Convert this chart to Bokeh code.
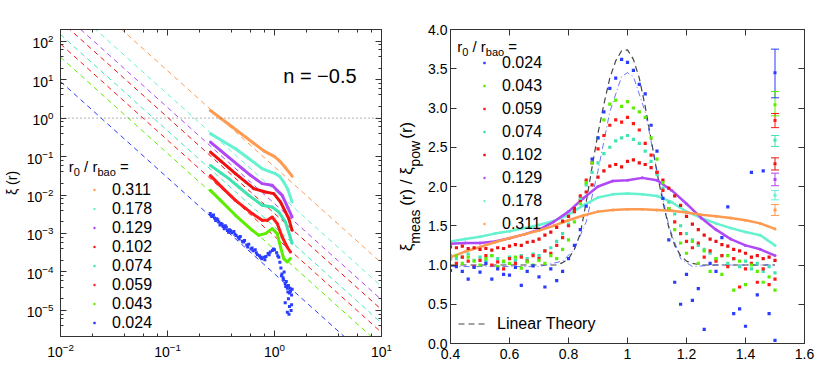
from bokeh.plotting import figure
from bokeh.layouts import row
from bokeh.models import (Label, Legend, LegendItem, LogAxis, LinearAxis, LogTicker,
                          FixedTicker, CustomJSTickFormatter, PrintfTickFormatter, Span)
from bokeh.embed import file_html
from bokeh.resources import INLINE

FONT = "Liberation Sans"
AX = "#333333"
NB = "\u00a0"

# ---------------- data ----------------
series = ["0.311", "0.178", "0.129", "0.102", "0.074", "0.059", "0.043", "0.024"]
colors = ["#ff9a50", "#66f2d0", "#b048f8", "#ee1111", "#40e4b0", "#ff1a1a", "#5cee00", "#2a3cff"]

# left panel: power-law xi_pow values at r = 0.01 and r = 10 (dashed lines)
pl_r = [0.01, 10.0]
pl_311 = [5395, 1.71e-4]
pl_178 = [1337, 4.23e-5]
pl_129 = [598, 1.89e-5]
pl_102 = [332, 1.05e-5]
pl_074 = [149, 4.71e-6]
pl_059 = [84.6, 2.67e-6]
pl_043 = [38.4, 1.21e-6]
pl_024 = [8.92, 2.82e-7]
unity = 1.0

# left panel: measured xi(r)
l311_r = [0.251, 0.316, 0.398, 0.501, 0.631, 0.794, 1.000, 1.122, 1.259, 1.462]
l311_xi = [1.585, 0.977, 0.603, 0.372, 0.229, 0.141, 0.100, 0.0759, 0.0525, 0.0309]
l178_r = [0.252, 0.316, 0.432, 0.575, 0.767, 0.900, 1.020, 1.122, 1.220, 1.330, 1.460]
l178_xi = [0.394, 0.269, 0.160, 0.0891, 0.0485, 0.0407, 0.0360, 0.0302, 0.0218, 0.0141, 0.00658]
l129_r = [0.252, 0.316, 0.374, 0.501, 0.597, 0.767, 0.951, 1.122, 1.180, 1.330, 1.460]
l129_xi = [0.238, 0.141, 0.0955, 0.0486, 0.0325, 0.0198, 0.0179, 0.0113, 0.00982, 0.00475, 0.00268]
l102_r = [0.252, 0.316, 0.432, 0.540, 0.641, 0.824, 0.984, 1.138, 1.250, 1.360, 1.460]
l102_xi = [0.131, 0.0759, 0.0360, 0.0217, 0.01466, 0.01197, 0.01087, 0.00658, 0.0039, 0.00244, 0.00121]
l074_r = [0.252, 0.316, 0.374, 0.470, 0.575, 0.767, 0.860, 0.951, 1.097, 1.267, 1.460]
l074_xi = [0.059, 0.0374, 0.0267, 0.0157, 0.00982, 0.0054, 0.00513, 0.00488, 0.00361, 0.00199, 0.000556]
l059_r = [0.252, 0.316, 0.432, 0.530, 0.620, 0.767, 0.855, 0.951, 1.060, 1.180, 1.314, 1.410]
l059_xi = [0.032, 0.0168, 0.00728, 0.00463, 0.00329, 0.0022, 0.0022, 0.00268, 0.00181, 0.00081, 0.000446, 0.00033]
l043_r = [0.252, 0.313, 0.432, 0.620, 0.713, 0.824, 0.951, 1.060, 1.138, 1.220, 1.314, 1.410]
l043_xi = [0.01324, 0.00728, 0.00297, 0.00121, 0.000898, 0.000993, 0.00134, 0.000993, 0.000446, 0.000223, 0.000182, 0.000223]
l024_r = [0.251, 0.263, 0.275, 0.288, 0.302, 0.316, 0.331, 0.347, 0.363, 0.380, 0.398, 0.417, 0.437,
          0.457, 0.479, 0.501, 0.525, 0.550, 0.575, 0.603, 0.631, 0.661, 0.692, 0.724, 0.759, 0.794,
          0.832, 0.871, 0.912, 0.955, 1.000, 1.047, 1.096, 1.148, 1.175, 1.202, 1.230, 1.259, 1.288,
          1.318, 1.349, 1.380, 1.413, 1.445, 1.462, 1.259, 1.318, 1.380, 1.429, 1.349,
          0.257, 0.269, 0.282, 0.295, 0.309, 0.324, 0.339, 0.355, 0.372, 0.389, 0.427, 0.468, 0.513,
          0.562, 0.617, 0.676, 0.741, 0.813, 0.891, 0.977, 1.072, 1.122, 1.161, 1.216, 1.274, 1.334,
          1.396, 1.445, 1.365]
l024_xi = [3.31e-3, 2.75e-3, 2.51e-3, 2.40e-3, 2.00e-3, 1.82e-3, 1.51e-3, 1.58e-3, 1.20e-3, 1.26e-3,
           1.05e-3, 1.12e-3, 8.91e-4, 7.94e-4, 8.32e-4, 6.31e-4, 6.61e-4, 5.01e-4, 5.25e-4, 3.98e-4,
           3.55e-4, 3.80e-4, 2.82e-4, 2.63e-4, 2.19e-4, 2.40e-4, 2.51e-4, 3.02e-4, 3.31e-4, 3.63e-4,
           3.80e-4, 3.16e-4, 2.40e-4, 1.26e-4, 8.91e-5, 7.08e-5, 1.00e-4, 5.01e-5, 5.62e-5, 3.80e-5,
           4.47e-5, 2.82e-5, 3.16e-5, 2.51e-5, 3.55e-5, 1.58e-5, 8.91e-6, 1.26e-5, 1.00e-5, 2.00e-5,
           2.82e-3, 3.02e-3, 2.19e-3, 2.29e-3, 1.66e-3, 1.74e-3, 1.32e-3, 1.45e-3, 1.07e-3, 1.17e-3,
           9.55e-4, 7.24e-4, 6.03e-4, 4.47e-4, 4.17e-4, 3.16e-4, 2.40e-4, 2.09e-4, 2.82e-4, 3.98e-4,
           2.63e-4, 1.78e-4, 7.94e-5, 6.31e-5, 4.17e-5, 3.02e-5, 3.80e-5, 1.41e-5, 7.94e-6]

# right panel: ratio xi_meas / xi_pow
r2 = [0.40, 0.42, 0.44, 0.46, 0.48, 0.50, 0.52, 0.54, 0.56, 0.58, 0.60, 0.62, 0.64, 0.66, 0.68, 0.70,
      0.72, 0.74, 0.76, 0.78, 0.80, 0.82, 0.84, 0.86, 0.88, 0.90, 0.92, 0.94, 0.96, 0.98, 1.00, 1.02,
      1.04, 1.06, 1.08, 1.10, 1.12, 1.14, 1.16, 1.18, 1.20, 1.22, 1.24, 1.26, 1.28, 1.30, 1.32, 1.34,
      1.36, 1.38, 1.40, 1.42, 1.44, 1.46, 1.48, 1.50]
ratio_024 = [0.93, 0.98, 0.92, 0.82, 0.97, 0.91, 1.02, 0.82, 0.95, 0.88, 0.87, 0.97, 0.74, 0.92, 0.99, 0.85,
             0.72, 0.95, 0.80, 0.92, 1.08, 1.25, 1.45, 1.75, 2.35, 2.62, 2.95, 3.25, 3.38, 3.62, 3.58, 3.48,
             3.30, 3.18, 2.78, 2.45, 1.85, 1.32, 0.78, 0.50, 0.88, 0.55, 0.70, 0.18, 1.02, 0.92, 1.35, 1.74,
             0.38, 0.44, 0.22, 2.18, 0.62, 2.20, 0.38, 0.04]
ratio_043 = [1.08, 1.12, 1.02, 1.10, 1.05, 1.00, 1.08, 1.12, 0.98, 1.05, 1.02, 1.10, 0.96, 1.04, 1.00, 1.06,
             1.02, 1.12, 1.08, 1.20, 1.32, 1.55, 1.78, 2.05, 2.30, 2.62, 2.85, 3.05, 3.10, 3.02, 3.08, 3.00,
             2.95, 2.88, 2.62, 2.35, 2.05, 1.72, 1.45, 1.28, 1.15, 1.30, 1.02, 1.18, 0.92, 1.08, 0.88, 1.12,
             0.68, 1.05, 0.75, 1.00, 0.92, 0.78, 0.85, 0.68]
ratio_059 = [1.08, 1.02, 1.10, 1.05, 0.98, 1.06, 1.12, 1.00, 1.04, 0.95, 1.08, 1.02, 1.10, 1.05, 1.12, 1.08,
             1.18, 1.15, 1.25, 1.35, 1.50, 1.68, 1.88, 2.08, 2.30, 2.48, 2.65, 2.78, 2.85, 2.82, 2.88, 2.80,
             2.72, 2.55, 2.40, 2.18, 1.95, 1.72, 1.55, 1.40, 1.30, 1.22, 1.28, 1.10, 1.18, 1.05, 1.12, 0.98,
             1.08, 0.72, 0.95, 1.02, 0.78, 0.95, 0.75, 0.82]
ratio_074 = [1.12, 1.08, 1.10, 1.14, 1.06, 1.10, 1.05, 1.12, 1.08, 1.04, 1.10, 1.06, 1.12, 1.08, 1.14, 1.12,
             1.18, 1.22, 1.30, 1.40, 1.52, 1.68, 1.85, 2.02, 2.18, 2.30, 2.42, 2.50, 2.58, 2.62, 2.65, 2.60,
             2.55, 2.45, 2.32, 2.15, 1.98, 1.80, 1.65, 1.50, 1.40, 1.32, 1.25, 1.20, 1.15, 1.08, 1.12, 1.02,
             1.08, 0.98, 1.05, 0.95, 1.02, 0.92, 0.98, 0.90]
ratio_102 = [1.23, 1.22, 1.24, 1.21, 1.22, 1.20, 1.21, 1.19, 1.22, 1.21, 1.24, 1.26, 1.25, 1.29, 1.30, 1.33,
             1.38, 1.42, 1.48, 1.56, 1.62, 1.72, 1.82, 1.93, 2.02, 2.12, 2.20, 2.26, 2.28, 2.25, 2.32, 2.34,
             2.30, 2.28, 2.24, 2.18, 2.08, 1.98, 1.88, 1.76, 1.62, 1.52, 1.45, 1.38, 1.33, 1.30, 1.26, 1.24,
             1.20, 1.18, 1.15, 1.10, 1.12, 1.08, 1.10, 1.06]
r5 = [0.40, 0.45, 0.50, 0.55, 0.60, 0.65, 0.70, 0.75, 0.80, 0.85, 0.90, 0.95, 1.00, 1.05, 1.10, 1.15,
      1.20, 1.25, 1.30, 1.35, 1.40, 1.45, 1.50]
ratio_311 = [1.10, 1.17, 1.23, 1.29, 1.34, 1.39, 1.44, 1.50, 1.57, 1.63, 1.68, 1.70, 1.71, 1.71, 1.70, 1.69,
             1.67, 1.64, 1.62, 1.60, 1.57, 1.53, 1.46]
ratio_178 = [1.30, 1.33, 1.36, 1.40, 1.43, 1.47, 1.51, 1.56, 1.64, 1.76, 1.86, 1.90, 1.91, 1.90, 1.88, 1.80,
             1.68, 1.60, 1.53, 1.47, 1.42, 1.38, 1.25]
ratio_129 = [1.27, 1.28, 1.28, 1.30, 1.34, 1.39, 1.45, 1.55, 1.68, 1.85, 2.00, 2.07, 2.08, 2.11, 2.08, 1.95,
             1.78, 1.60, 1.45, 1.33, 1.25, 1.20, 1.12]
lt_r = [0.40, 0.76, 0.78, 0.80, 0.82, 0.84, 0.86, 0.88, 0.90, 0.92, 0.94, 0.96, 0.98, 1.00, 1.02, 1.04,
        1.06, 1.08, 1.10, 1.12, 1.14, 1.16, 1.18, 1.20, 1.22, 1.25, 1.50]
lt_v = [1.00, 1.00, 1.03, 1.08, 1.20, 1.40, 1.80, 2.25, 2.68, 3.05, 3.38, 3.60, 3.73, 3.74, 3.62, 3.38,
        3.02, 2.60, 2.18, 1.80, 1.48, 1.25, 1.12, 1.05, 1.02, 1.00, 1.00]
bm_r = [0.40, 0.70, 0.78, 0.82, 0.86, 0.90, 0.94, 0.98, 1.00, 1.02, 1.06, 1.10, 1.14, 1.18, 1.22, 1.30, 1.50]
bm_v = [0.98, 0.98, 1.05, 1.20, 1.55, 2.20, 2.95, 3.40, 3.45, 3.40, 2.95, 2.20, 1.50, 1.08, 0.98, 1.00, 1.00]
# error bars at r = 1.5 (order 0.024 ... 0.311)
eb_r = [1.5, 1.5, 1.5, 1.5, 1.5, 1.5, 1.5, 1.5]
eb_mid = [3.45, 3.04, 2.84, 2.59, 2.29, 2.09, 1.89, 1.70]
eb_lo = [3.13, 2.90, 2.75, 2.51, 2.21, 2.01, 1.83, 1.63]
eb_hi = [3.75, 3.21, 2.93, 2.65, 2.365, 2.17, 1.95, 1.77]
eb_col = ["#2a3cff", "#5cee00", "#ff1a1a", "#40e4b0", "#ee1111", "#b048f8", "#66f2d0", "#ff9a50"]

col = dict(zip(series, colors))


def style_axis(ax, size="14px", standoff=6):
    ax.axis_line_color = AX
    ax.major_tick_line_color = AX
    ax.minor_tick_line_color = AX
    ax.major_tick_in = 6
    ax.major_tick_out = 0
    ax.minor_tick_in = 3
    ax.minor_tick_out = 0
    ax.major_label_text_font = FONT
    ax.major_label_text_font_size = size
    ax.major_label_text_color = "black"
    ax.major_label_standoff = standoff


def style_title(ax, text, size, standoff):
    ax.axis_label = text
    ax.axis_label_text_font = FONT
    ax.axis_label_text_font_size = size
    ax.axis_label_text_font_style = "normal"
    ax.axis_label_text_color = "black"
    ax.axis_label_standoff = standoff


def lab(p, text, x, y, size):
    p.add_layout(Label(x=x, y=y, x_units="screen", y_units="screen", text=text,
                       text_font=FONT, text_font_size=size, text_color="black",
                       text_align="left", text_baseline="alphabetic"))


def legend(items, loc, spacing, gw, standoff):
    return Legend(items=items, location=loc, border_line_color=None, background_fill_alpha=0,
                  padding=5, margin=0, spacing=spacing, glyph_width=gw, glyph_height=19,
                  label_height=19, label_standoff=standoff, label_text_font=FONT,
                  label_text_font_size="16px", label_text_color="black")


# ---------------- left panel ----------------
p1 = figure(x_axis_type="log", y_axis_type="log", x_range=(0.01, 10), y_range=(2.1e-6, 201),
            frame_width=321, frame_height=307, min_border_left=60, min_border_right=12,
            min_border_top=29, min_border_bottom=49, output_backend="svg", toolbar_location=None,
            background_fill_color="white", border_fill_color="white", outline_line_color=AX)
p1.grid.visible = False
p1.xaxis.ticker = LogTicker()
p1.yaxis.ticker = LogTicker(desired_num_ticks=10)
style_axis(p1.xaxis[0], standoff=6)
style_axis(p1.yaxis[0], standoff=7)
style_title(p1.yaxis[0], "\u03be (r)", "14px", 4)
for loc, tk in (("above", LogTicker()), ("right", LogTicker(desired_num_ticks=10))):
    a = LogAxis(ticker=tk, formatter=CustomJSTickFormatter(code="return '';"))
    style_axis(a, standoff=0)
    p1.add_layout(a, loc)

p1.add_layout(Span(location=unity, dimension="width", line_color="#666666", line_dash="1 3", line_width=1))

pl = {"0.311": pl_311, "0.178": pl_178, "0.129": pl_129, "0.102": pl_102,
      "0.074": pl_074, "0.059": pl_059, "0.043": pl_043, "0.024": pl_024}
for s in series:
    p1.line(pl_r, pl[s], line_color=col[s], line_dash="5 4", line_width=1)

left_data = {"0.311": (l311_r, l311_xi), "0.178": (l178_r, l178_xi), "0.129": (l129_r, l129_xi),
             "0.102": (l102_r, l102_xi), "0.074": (l074_r, l074_xi), "0.059": (l059_r, l059_xi),
             "0.043": (l043_r, l043_xi)}
leg_r1 = {}
for s in ["0.043", "0.059", "0.074", "0.102", "0.129", "0.178", "0.311"]:
    rr, xx = left_data[s]
    p1.line(rr, xx, line_color=col[s], line_width=3)
    leg_r1[s] = p1.scatter(rr, xx, marker="circle", size=3, color=col[s], line_color=None)
leg_r1["0.024"] = p1.scatter(l024_r, l024_xi, marker="square", size=3, color=col["0.024"], line_color=None)

p1.add_layout(legend([LegendItem(label=s, renderers=[leg_r1[s]]) for s in series], (31, 4), 0, 6, 15), "center")

# legend title r0 / rbao =
lab(p1, "r", 8.3, 170.3, "15px")
lab(p1, "0", 13.3, 164.3, "11px")
lab(p1, "/ r", 23.6, 170.3, "15px")
lab(p1, "bao", 36.9, 164.3, "11px")
lab(p1, "=", 59.4, 170.3, "15px")
lab(p1, "n = \u22120.5", 222.7, 261, "20px")
# x axis title
lab(p1, "r / r", 140, -32, "14px")
lab(p1, "bao", 161, -39, "11px")

# ---------------- right panel ----------------
p2 = figure(x_range=(0.4, 1.6), y_range=(0, 4),
            frame_width=354, frame_height=314, min_border_left=57, min_border_right=12,
            min_border_top=29, min_border_bottom=42, output_backend="svg", toolbar_location=None,
            background_fill_color="white", border_fill_color="white", outline_line_color=AX)
p2.grid.visible = False
xt = [0.4, 0.6, 0.8, 1.0, 1.2, 1.4, 1.6]
yt = [0.0, 0.5, 1.0, 1.5, 2.0, 2.5, 3.0, 3.5, 4.0]
p2.xaxis.ticker = FixedTicker(ticks=xt, minor_ticks=[])
p2.yaxis.ticker = FixedTicker(ticks=yt, minor_ticks=[])
p2.xaxis.formatter = CustomJSTickFormatter(code="return Math.abs(tick - 1) < 1e-9 ? '1' : tick.toFixed(1);")
p2.yaxis.formatter = PrintfTickFormatter(format="%.1f")
style_axis(p2.xaxis[0], standoff=5)
style_axis(p2.yaxis[0], standoff=3)
for loc, tk in (("above", xt), ("right", yt)):
    a = LinearAxis(ticker=FixedTicker(ticks=tk, minor_ticks=[]),
                   formatter=CustomJSTickFormatter(code="return '';"))
    style_axis(a, standoff=0)
    p2.add_layout(a, loc)

# y title: xi_meas (r) / xi_pow (r) -> subscript line on inner axis, main line on outer axis
sub_line = NB * 2 + "meas" + NB * 11 + "pow" + NB * 5
main_line = "\u03be" + NB * 8 + "(r) / \u03be" + NB * 6 + "(r)"
style_title(p2.yaxis[0], sub_line, "14px", 2)
outer = LinearAxis(ticker=FixedTicker(ticks=[], minor_ticks=[]),
                   formatter=CustomJSTickFormatter(code="return '';"),
                   axis_line_color=None, major_tick_in=0, major_tick_out=0,
                   minor_tick_in=0, minor_tick_out=0, major_label_standoff=0)
style_title(outer, main_line, "17px", -11)
p2.add_layout(outer, "left")

lt = p2.line(lt_r, lt_v, line_color="#444444", line_dash="6 4", line_width=1.2)
p2.line(bm_r, bm_v, line_color=col["0.024"], line_dash="6 3 1 3", line_width=1, line_alpha=0.7)

smooth = {"0.178": ratio_178, "0.129": ratio_129, "0.311": ratio_311}
noisy = {"0.102": ratio_102, "0.074": ratio_074, "0.059": ratio_059, "0.043": ratio_043, "0.024": ratio_024}
leg_r2 = {}
for s in ["0.178", "0.129", "0.311"]:
    p2.line(r5, smooth[s], line_color=col[s], line_width=2.5)
    leg_r2[s] = p2.scatter(r5, smooth[s], marker="circle", size=3, color=col[s], line_color=None)
for s in ["0.102", "0.074", "0.059", "0.043", "0.024"]:
    leg_r2[s] = p2.scatter(r2, noisy[s], marker="square", size=3.2, color=col[s], line_color=None)

p2.segment(eb_r, eb_lo, eb_r, eb_hi, line_color=eb_col, line_width=1)
p2.scatter(eb_r, eb_lo, marker="dash", size=8, line_color=eb_col, line_width=1)
p2.scatter(eb_r, eb_hi, marker="dash", size=8, line_color=eb_col, line_width=1)
p2.scatter(eb_r, eb_mid, marker="square", size=3, color=eb_col, line_color=None)

order2 = ["0.024", "0.043", "0.059", "0.074", "0.102", "0.129", "0.178", "0.311"]
p2.add_layout(legend([LegendItem(label=s, renderers=[leg_r2[s]]) for s in order2], (31, 110), 4, 6, 15), "center")
p2.add_layout(legend([LegendItem(label="Linear Theory", renderers=[lt])], (8, 10), 0, 30, 9), "center")

lab(p2, "r", 6.7, 297.3, "15px")
lab(p2, "0", 11.7, 291.3, "11px")
lab(p2, "/ r", 22.0, 297.3, "15px")
lab(p2, "bao", 35.3, 291.3, "11px")
lab(p2, "=", 57.8, 297.3, "15px")
lab(p2, "r / r", 165, -28, "14px")
lab(p2, "bao", 186, -36, "11px")

layout = row(p1, p2)
open("out.html", "w").write(file_html(layout, INLINE))
